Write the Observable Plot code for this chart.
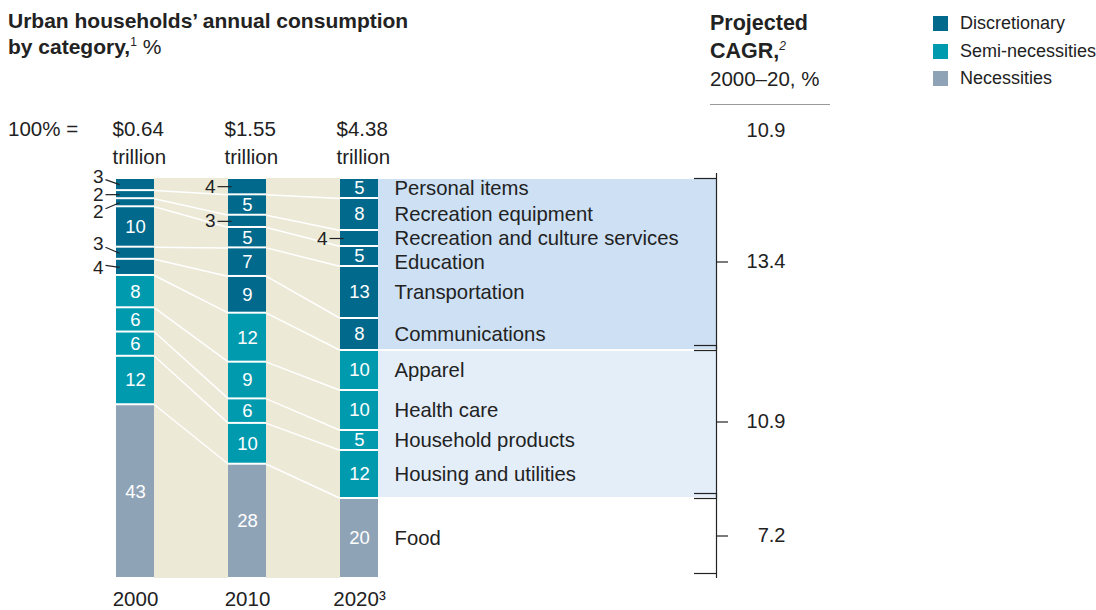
<!DOCTYPE html>
<html>
<head>
<meta charset="utf-8">
<script src="https://cdn.jsdelivr.net/npm/d3@7"></script>
<script src="https://cdn.jsdelivr.net/npm/@observablehq/plot@0.6"></script>
<style>
  html, body { margin: 0; padding: 0; background: #fff; }
  body { font-family: "Liberation Sans", Arial, sans-serif; color: #222; }
  #wrap { position: relative; width: 1096px; height: 610px; overflow: hidden; }
  #chart { position: absolute; left: 0; top: 0; }
  .ov { position: absolute; white-space: nowrap; }
  .title { left: 8px; top: 8px; font-size: 21px; line-height: 26px; font-weight: bold; }
  .title span.reg { font-weight: normal; }
  sup { font-size: 12px; font-weight: normal; vertical-align: 0; position: relative; top: -8px; line-height: 0; }
  .cagr { left: 710px; top: 9px; font-size: 20.5px; line-height: 27px; }
  .cagr b { font-weight: bold; font-size: 21.5px; }
  .rule { position: absolute; left: 710px; top: 104px; width: 120px; height: 0; border-top: 1px solid #9a9a9a; }
  .eq { left: 8px; top: 116px; font-size: 20.5px; line-height: 26px; }
  .legend { left: 933px; top: 16px; font-size: 18px; }
  .legend .item { position: relative; height: 27.5px; }
  .legend .sw { position: absolute; left: 0; top: 0; width: 15px; height: 15px; }
  .legend .lab { position: absolute; left: 27px; top: -3px; line-height: 21px; }
</style>
</head>
<body>
<div id="wrap">
  <div id="chart"></div>
  <div class="ov title">Urban households’ annual consumption<br>by category,<sup>1</sup> <span class="reg">%</span></div>
  <div class="ov cagr"><b>Projected</b><br><b>CAGR,</b><sup><i>2</i></sup><br>2000–20, %</div>
  <div class="rule"></div>
  <div class="ov eq">100% =</div>
  <div class="ov legend" id="legend"></div>
</div>
<script>
// ---------------- data ----------------
const years = [2000, 2010, 2020];
const yearLabels = ["2000", "2010", "2020³"];
const totals = ["$0.64", "$1.55", "$4.38"]; // trillion
const categories = [
  "Personal items", "Recreation equipment", "Recreation and culture services",
  "Education", "Transportation", "Communications",
  "Apparel", "Health care", "Household products", "Housing and utilities",
  "Food"
];
const categoryGroup = [
  "Discretionary", "Discretionary", "Discretionary", "Discretionary", "Discretionary", "Discretionary",
  "Semi-necessities", "Semi-necessities", "Semi-necessities", "Semi-necessities",
  "Necessities"
];
const share2000 = [3, 2, 2, 10, 3, 4, 8, 6, 6, 12, 43];
const share2010 = [4, 5, 3, 5, 7, 9, 12, 9, 6, 10, 28];
const share2020 = [5, 8, 4, 5, 13, 8, 10, 10, 5, 12, 20];
const groupNames = ["Discretionary", "Semi-necessities", "Necessities"];
const groupCagr = [13.4, 10.9, 7.2];
const totalCagr = 10.9;

// ---------------- styles ----------------
const groupColors = ["#00698c", "#009aaf", "#8fa3b6"];
const bandColors = ["#cde0f4", "#e3eef9", "none"];
const beige = "#ece9d7";
const ink = "#222";

// scale ranges (pixels)
const xRange = [135, 359], yRange = [578, 178];
const kx = (years[2] - years[0]) / (xRange[1] - xRange[0]); // data per px
const ky = 100 / (yRange[0] - yRange[1]);
const bw = 19 * kx;               // half bar width
const bracketX = years[2] + 357 * kx; // bracket column

// ---------------- derived table ----------------
const shares = [share2000, share2010, share2020];
const rows = [];
years.forEach((yr, i) => {
  const vals = shares[i];
  const sum = d3.sum(vals);
  let top = 100;
  categories.forEach((c, j) => {
    const h = vals[j] * 100 / sum;
    rows.push({year: yr, yi: i, ci: j, cat: c, group: categoryGroup[j], value: vals[j],
               y2: top, y1: top - h, mid: top - h / 2});
    top -= h;
  });
});
const rowsOf = yr => rows.filter(d => d.year === yr);

// connectors between adjacent bars at each internal boundary
const links = [];
for (let i = 0; i < years.length - 1; i++) {
  const a = rowsOf(years[i]), b = rowsOf(years[i + 1]);
  for (let j = 0; j < categories.length - 1; j++) {
    links.push({x1: years[i] + bw, y1: a[j].y1, x2: years[i + 1] - bw, y2: b[j].y1});
  }
}
const gaps = years.slice(0, -1).map((y, i) => ({x1: y + bw, x2: years[i + 1] - bw}));

// group extents in final year
const last = rowsOf(years[2]);
const groupExt = groupNames.map((g, gi) => {
  const r = last.filter(d => d.group === g);
  return {group: g, top: d3.max(r, d => d.y2), bottom: d3.min(r, d => d.y1),
          cagr: groupCagr[gi], fill: bandColors[gi]};
});

// outside labels for small values (vertical nudges in px)
const small = rows.filter(d => d.value <= 4);
const nudge = {"2000|Personal items": -8, "2000|Recreation and culture services": 9,
               "2000|Transportation": -9, "2000|Communications": 1};
const nd = d => nudge[d.year + "|" + d.cat] || 0;
const catDy = {"Education": 6};

const chart = Plot.plot({
  width: 1096, height: 610,
  marginTop: 0, marginRight: 0, marginBottom: 0, marginLeft: 0,
  style: {fontFamily: '"Liberation Sans", Arial, sans-serif', background: "transparent"},
  x: {domain: [years[0], years[2]], range: xRange, axis: null},
  y: {domain: [0, 100], range: yRange, axis: null},
  color: {domain: groupNames, range: groupColors},
  marks: [
    // beige bands between bars
    Plot.rect(gaps, {x1: "x1", x2: "x2", y1: 0, y2: 100, fill: beige}),
    // blue bands behind category labels
    Plot.rect(groupExt.filter(d => d.fill !== "none"), {
      x1: years[2] + bw, x2: bracketX, y1: "bottom", y2: "top", fill: "fill", insetTop: 1, insetBottom: 1
    }),
    // connectors
    Plot.link(links, {x1: "x1", y1: "y1", x2: "x2", y2: "y2", stroke: "#fff", strokeWidth: 1.5}),
    // bars
    Plot.rect(rows, {x1: d => d.year - bw, x2: d => d.year + bw, y1: "y1", y2: "y2",
                     fill: "group", insetTop: 1, insetBottom: 1}),
    // values inside bars
    Plot.text(rows.filter(d => d.value > 4), {x: "year", y: "mid", text: d => String(d.value),
      fill: "#fff", fontSize: 18.5}),
    // leaders for values outside bars
    Plot.link(small, {
      x1: d => d.year - bw - 11 * kx,
      y1: d => d.mid - (nd(d) + (nd(d) === 0 ? 0 : (nd(d) > 0 ? -3 : 3))) * ky,
      x2: d => d.year - bw + 3 * kx, y2: "mid", stroke: ink, strokeWidth: 1.2
    }),
    // values outside bars
    Plot.text(small, {x: d => d.year - bw, y: d => d.mid - nd(d) * ky, dx: -13, text: d => String(d.value),
      textAnchor: "end", fill: ink, fontSize: 19}),
    // category labels
    Plot.text(last, {x: years[2] + bw, y: d => d.mid - (catDy[d.cat] || 0) * ky, dx: 16, text: "cat",
      textAnchor: "start", fill: ink, fontSize: 20.3}),
    // totals above bars
    Plot.text(years.map((y, i) => ({year: y, t: totals[i] + "\ntrillion"})), {
      x: d => d.year - bw, y: 100, dx: -4, dy: -15, text: "t", textAnchor: "start",
      lineAnchor: "bottom", lineHeight: 1.33, fontSize: 20.5, fill: ink}),
    // year labels
    Plot.text(years.map((y, i) => ({year: y, t: yearLabels[i]})), {
      x: "year", y: 0, dy: 27, text: "t", lineAnchor: "bottom", fontSize: 20.5, fill: ink}),
    // brackets
    Plot.ruleX(groupExt, {x: bracketX, y1: "bottom", y2: "top", insetBottom: 5, stroke: ink, strokeWidth: 1.2}),
    Plot.ruleY(groupExt, {y: "top", x1: bracketX - 22 * kx, x2: bracketX, stroke: ink, strokeWidth: 1.2}),
    Plot.ruleY(groupExt, {y: "bottom", x1: bracketX - 22 * kx, x2: bracketX, dy: -5, stroke: ink, strokeWidth: 1.2}),
    Plot.ruleY(groupExt, {y: d => (d.top + d.bottom) / 2, x1: bracketX, x2: bracketX + 12 * kx, dy: -2.5, stroke: ink, strokeWidth: 1.2}),
    Plot.text(groupExt, {x: bracketX, dx: 69, y: d => (d.top + d.bottom) / 2, dy: -2.5,
      text: d => d.cagr.toFixed(1), textAnchor: "end", fontSize: 20, fill: ink}),
    Plot.text([totalCagr], {x: bracketX, dx: 69, y: 100, dy: -42, text: d => d.toFixed(1),
      textAnchor: "end", lineAnchor: "bottom", fontSize: 20, fill: ink})
  ]
});
document.getElementById("chart").appendChild(chart);

// legend
const lg = document.getElementById("legend");
groupNames.forEach((g, i) => {
  const it = document.createElement("div"); it.className = "item";
  it.innerHTML = `<div class="sw" style="background:${groupColors[i]}"></div><div class="lab">${g}</div>`;
  lg.appendChild(it);
});
</script>
</body>
</html>
